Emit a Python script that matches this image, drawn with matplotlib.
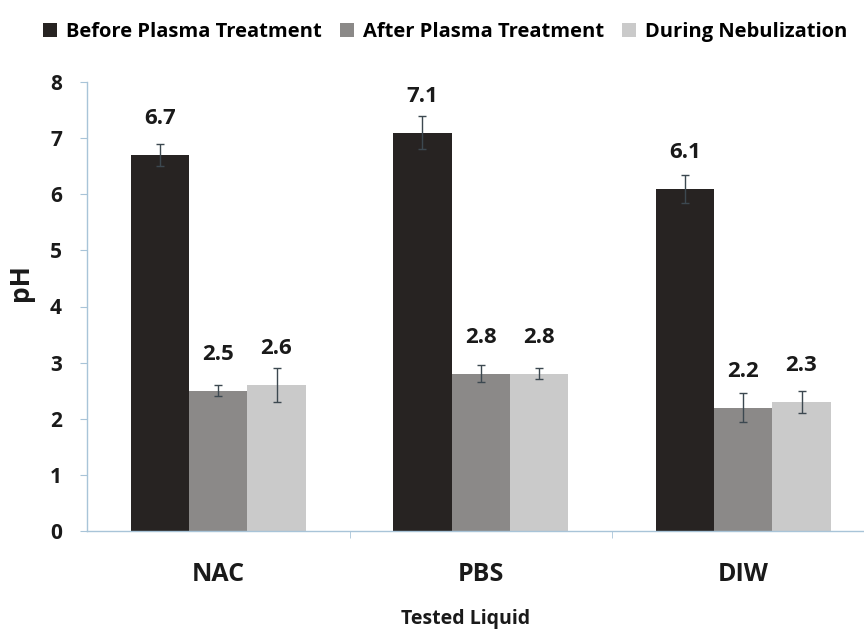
import numpy as np
import matplotlib
matplotlib.use("Agg")
import matplotlib.pyplot as plt
from matplotlib.patches import Patch

plt.rcParams['font.family'] = ['Open Sans', 'DejaVu Sans']
plt.rcParams['font.weight'] = 'bold'

# data
liquids = ['NAC', 'PBS', 'DIW']
series = ['Before Plasma Treatment', 'After Plasma Treatment', 'During Nebulization']
before = [6.7, 7.1, 6.1]
before_err = [0.2, 0.3, 0.25]
after = [2.5, 2.8, 2.2]
after_err = [0.1, 0.15, 0.25]
nebul = [2.6, 2.8, 2.3]
nebul_err = [0.3, 0.1, 0.2]

colours = ['#272322', '#8b8988', '#cacaca']
axis_col = '#a8c4d8'

fig = plt.figure(figsize=(8.64, 6.35), dpi=100)
ax = fig.add_axes([87 / 864, 1 - 531 / 635, 1 - 87 / 864, (531 - 82) / 635])

x = np.arange(len(liquids))
w = 0.222
for i, (vals, errs) in enumerate([(before, before_err), (after, after_err), (nebul, nebul_err)]):
    pos = x + (i - 1) * w
    ax.bar(pos, vals, width=w, color=colours[i], label=series[i], zorder=2)
    ax.errorbar(pos, vals, yerr=errs, fmt='none', ecolor='#3c4850',
                elinewidth=1.0, capsize=3, capthick=1.0, zorder=3)
    for px, v in zip(pos, vals):
        ax.annotate(f'{v:.1f}', (px, v), xytext=(0, 26), textcoords='offset points',
                    ha='center', va='center', fontsize=16, fontweight='bold', color='#1a1a1a')

ax.set_xlim(-0.5, 2.46)
ax.set_ylim(0, 8)
ax.set_yticks(range(0, 9))
ax.set_xticks(x)
ax.set_xticklabels(liquids)
ax.set_xticks([0.5, 1.5], minor=True)

for s in ['top', 'right']:
    ax.spines[s].set_visible(False)
for s in ['left', 'bottom']:
    ax.spines[s].set_color(axis_col)
    ax.spines[s].set_linewidth(1.0)

ax.tick_params(axis='y', length=5, color=axis_col, pad=13, labelsize=15, labelcolor='#1a1a1a')
ax.tick_params(axis='x', which='major', length=0, pad=22, labelsize=18, labelcolor='#1a1a1a')
ax.tick_params(axis='x', which='minor', length=5, color=axis_col)
for lab in ax.get_xticklabels() + ax.get_yticklabels():
    lab.set_fontweight('bold')

fig.text(20 / 864, 1 - 283 / 635, 'pH', rotation=90, ha='center', va='center',
         fontsize=19, fontweight='bold', color='#1a1a1a')
fig.text(466 / 864, 1 - 619 / 635, 'Tested Liquid', ha='center', va='center',
         fontsize=14, fontweight='bold', color='#1a1a1a')

handles = [Patch(facecolor=c, label=s) for c, s in zip(colours, series)]
fig.legend(handles=handles, loc='center', bbox_to_anchor=(445 / 864, 1 - 32 / 635), ncol=3,
           frameon=False, handlelength=0.7, handleheight=0.7,
           handletextpad=0.45, columnspacing=0.9, prop={'weight': 'bold', 'size': 14.5})

fig.savefig('out.png', dpi=100)
